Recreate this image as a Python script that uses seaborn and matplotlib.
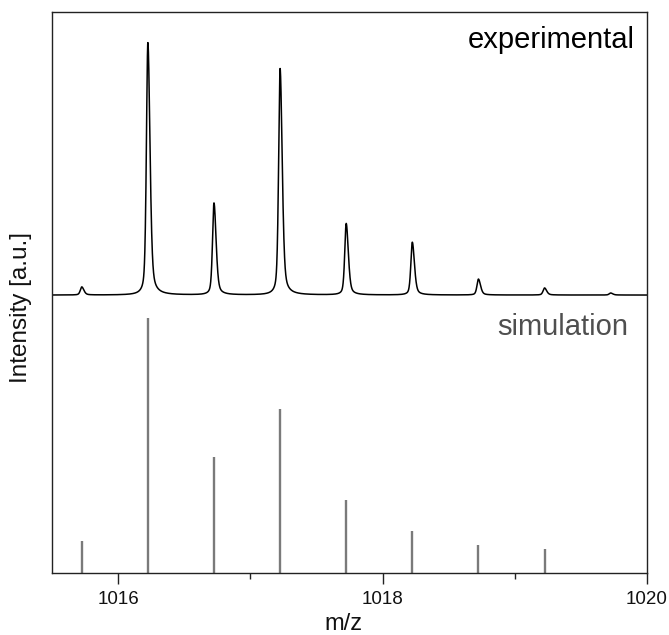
import numpy as np
import pandas as pd
import matplotlib
matplotlib.use("Agg")
import matplotlib.pyplot as plt
from matplotlib.ticker import MultipleLocator
import seaborn as sns

# Isotope pattern (z = 2): peak positions in m/z
peak_mz = [1015.725, 1016.225, 1016.725, 1017.225, 1017.725, 1018.225, 1018.725, 1019.225]
# Simulated relative intensities (%)
sim_intensity = [12.5, 100.0, 45.3, 64.5, 28.5, 16.5, 11.0, 9.5]

# Measured peaks: centre m/z and relative height (%)
exp_mz = [1015.725, 1016.225, 1016.725, 1017.225, 1017.725, 1018.225, 1018.725, 1019.225, 1019.725]
exp_intensity = [3.2, 100.0, 36.4, 89.7, 28.3, 20.9, 6.3, 2.8, 0.8]

x_ticks = [1016, 1018, 1020]
x_range = (1015.5, 1020.0)

# vertical stacking of the two traces
exp_offset = 109.0
exp_scale = 0.99
y_top = 220.0


def peak_profile(x, centre, height, hw_left=0.013, hw_right=0.019, eta=0.45):
    """Slightly tailing pseudo-Voigt line shape."""
    hw = np.where(x < centre, hw_left, hw_right)
    d = (x - centre) / hw
    lor = 1.0 / (1.0 + d ** 2)
    gau = np.exp(-np.log(2) * d ** 2)
    return height * (eta * lor + (1 - eta) * gau)


mz_grid = np.linspace(x_range[0], x_range[1], 6000)
signal = np.zeros_like(mz_grid)
for c, h in zip(exp_mz, exp_intensity):
    signal += peak_profile(mz_grid, c, h)

exp_df = pd.DataFrame({"mz": mz_grid, "intensity": exp_offset + exp_scale * signal})

sns.set_style("white")
plt.rcParams["font.family"] = ["Liberation Sans", "DejaVu Sans"]

fig = plt.figure(figsize=(6.69, 6.35), dpi=100)
ax = fig.add_axes([52 / 669, 62 / 635, 595 / 669, 561 / 635])

sns.lineplot(data=exp_df, x="mz", y="intensity", ax=ax, color="black",
             linewidth=1.1, estimator=None, sort=False)
ax.vlines(peak_mz, 0, sim_intensity, colors="#7a7a7a", linewidth=1.7)

ax.set_xlim(*x_range)
ax.set_ylim(0, y_top)
ax.set_yticks([])
ax.set_xticks(x_ticks)
ax.set_xticklabels([str(t) for t in x_ticks])
ax.xaxis.set_minor_locator(MultipleLocator(1))
ax.tick_params(axis="x", which="major", direction="out", length=8, width=1,
               color="#222222", pad=5, labelsize=13.5, labelcolor="#111111",
               bottom=True)
ax.tick_params(axis="x", which="minor", direction="out", length=4, width=1,
               color="#222222", bottom=True)

for s in ax.spines.values():
    s.set_visible(True)
    s.set_color("#222222")
    s.set_linewidth(1.0)

ax.set_xlabel("m/z", fontsize=17, color="#111111")
ax.set_ylabel("Intensity [a.u.]", fontsize=17.5, color="#111111")
ax.xaxis.set_label_coords(0.489, -0.071)
ax.yaxis.set_label_coords(-0.034, 0.474)

ax.text(0.980, 0.936, "experimental", transform=ax.transAxes, ha="right",
        va="baseline", fontsize=21, color="black")
ax.text(0.968, 0.424, "simulation", transform=ax.transAxes, ha="right",
        va="baseline", fontsize=21, color="#4f4f4f")

fig.savefig("out.png", dpi=100)
